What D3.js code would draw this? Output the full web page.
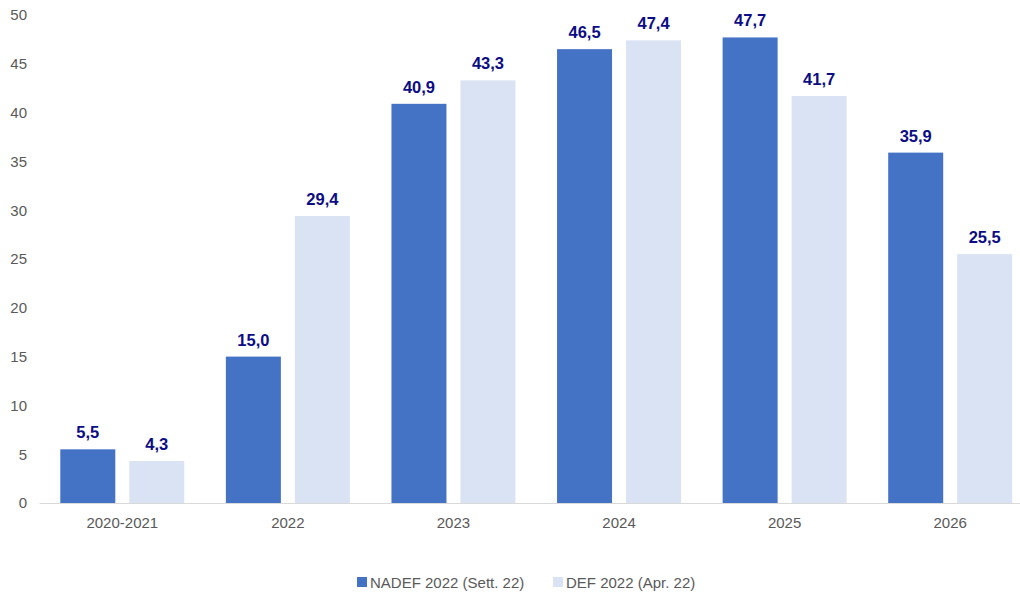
<!DOCTYPE html>
<html><head><meta charset="utf-8">
<script src="https://cdn.jsdelivr.net/npm/d3@7"></script>
<style>body{margin:0;background:#fff}svg{display:block;font-family:Arial,"Liberation Sans",sans-serif}</style>
</head><body>
<svg id="c" width="1020" height="592"></svg>
<script>
const categories = ["2020-2021","2022","2023","2024","2025","2026"];
const seriesNames = ["NADEF 2022 (Sett. 22)","DEF 2022 (Apr. 22)"];
const nadef = [5.5,15.0,40.9,46.5,47.7,35.9];
const def = [4.3,29.4,43.3,47.4,41.7,25.5];
const yTicks = [0,5,10,15,20,25,30,35,40,45,50];
const colors = ["#4472C4","#DAE3F3"];

const svg = d3.select("#c");
const x0 = d3.scaleBand().domain(categories).range([39.5,1033]).paddingInner(0).paddingOuter(0);
const y = d3.scaleLinear().domain([0,50]).range([503,15]);
const barW = 55, gap = 14;
const x1 = d3.scaleOrdinal().domain([0,1]).range([-(barW+gap/2)+barW/2, gap/2+barW/2]);

// axis line
svg.append("line").attr("x1",39.5).attr("x2",1033).attr("y1",503.5).attr("y2",503.5)
  .attr("stroke","#D9D9D9").attr("stroke-width",1);

// y tick labels
const yAxis = d3.axisLeft(y).tickValues(yTicks).tickSize(0).tickPadding(0);
const ya = svg.append("g").attr("transform","translate(27,0)").call(yAxis);
ya.select(".domain").remove();
ya.selectAll("text").attr("font-size",15).attr("fill","#595959").attr("font-family","Arial, 'Liberation Sans', sans-serif");

// x labels
const xAxis = d3.axisBottom(x0).tickSize(0).tickPadding(0);
const xa = svg.append("g").attr("transform","translate(0,517)").call(xAxis);
xa.select(".domain").remove();
xa.selectAll("text").attr("font-size",15).attr("fill","#595959").attr("font-family","Arial, 'Liberation Sans', sans-serif");

const series = [nadef, def];
series.forEach((vals,si)=>{
  const g = svg.append("g");
  g.selectAll("rect").data(vals).enter().append("rect")
    .attr("x",(d,i)=>x0(categories[i])+x0.bandwidth()/2+x1(si)-barW/2)
    .attr("width",barW)
    .attr("y",d=>y(d))
    .attr("height",d=>y(0)-y(d))
    .attr("fill",colors[si]);
  g.selectAll("text").data(vals).enter().append("text")
    .attr("x",(d,i)=>x0(categories[i])+x0.bandwidth()/2+x1(si))
    .attr("y",d=>y(d)-11)
    .attr("text-anchor","middle")
    .attr("font-size",16.5).attr("font-weight","bold").attr("fill","#0C0C85")
    .text(d=>d3.format(".1f")(d).replace(".",","));
});

// legend
const leg = [{x:357,tx:370},{x:553,tx:566}];
seriesNames.forEach((n,i)=>{
  svg.append("rect").attr("x",leg[i].x).attr("y",577).attr("width",10).attr("height",10).attr("fill",colors[i]);
  svg.append("text").attr("x",leg[i].tx).attr("y",588).attr("font-size",15).attr("fill","#595959").text(n);
});
</script>
</body></html>
